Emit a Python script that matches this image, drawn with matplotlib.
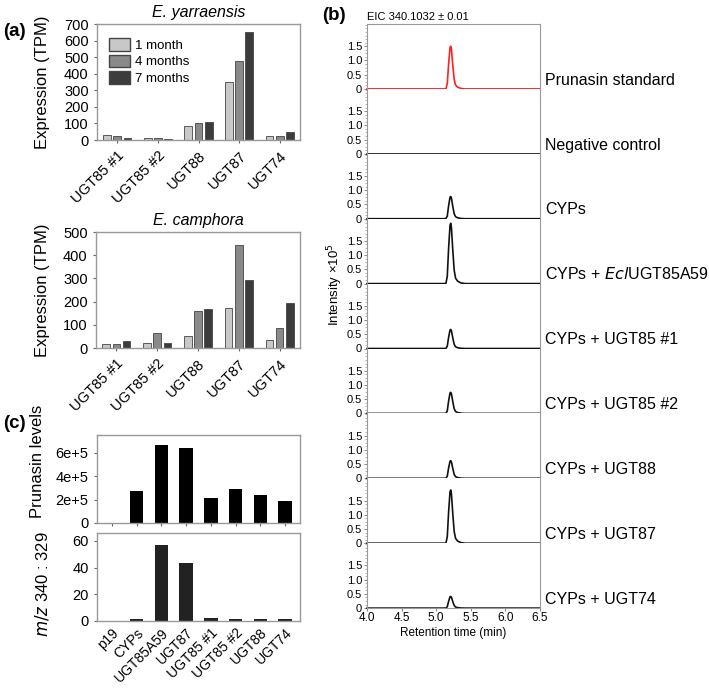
import numpy as np
import matplotlib
matplotlib.use("Agg")
import matplotlib.pyplot as plt
from matplotlib.patches import Patch

plt.rcParams['font.family'] = ['Liberation Sans', 'DejaVu Sans']

# -----------------------------
# Data
# -----------------------------
genes = ["UGT85 #1", "UGT85 #2", "UGT88", "UGT87", "UGT74"]
ages = ["1 month", "4 months", "7 months"]
yarraensis_tpm = [
    [30, 10, 87, 350, 24],    # 1 month
    [27, 12, 100, 475, 24],   # 4 months
    [12, 8, 111, 650, 46],    # 7 months
]
camphora_tpm = [
    [17, 20, 53, 173, 33],
    [16, 63, 161, 442, 85],
    [30, 22, 167, 291, 193],
]

constructs = ["p19", "CYPs", "UGT85A59", "UGT87", "UGT85 #1", "UGT85 #2", "UGT88", "UGT74"]
prunasin_levels = [0, 2.73e5, 6.69e5, 6.42e5, 2.17e5, 2.9e5, 2.36e5, 1.87e5]
mz_ratio = [0, 1.3, 57.2, 43.3, 2.0, 1.3, 1.7, 1.5]

samples = ["Prunasin standard", "Negative control", "CYPs", "CYPs + $\\it{Ecl}$UGT85A59",
           "CYPs + UGT85 #1", "CYPs + UGT85 #2", "CYPs + UGT88", "CYPs + UGT87", "CYPs + UGT74"]
peak_heights = [1.5, 0, 0.78, 2.12, 0.67, 0.74, 0.62, 1.87, 0.41]
trace_colors = ["#ff2020"] + ["#111111"] * 8

# peak shape (normalised to 1)
rt_profile = [4.0, 5.14, 5.16, 5.18, 5.20, 5.21, 5.22, 5.24, 5.26, 5.28, 5.31, 5.36, 5.42, 6.5]
shape_profile = [0, 0, 0.12, 0.6, 0.97, 1.0, 0.93, 0.55, 0.22, 0.09, 0.04, 0.01, 0, 0]

# -----------------------------
# Figure layout (pixel boxes)
# -----------------------------
W, H = 709, 691
fig = plt.figure(figsize=(W / 100, H / 100), dpi=100)


def box(l, t, r, b):
    return [l / W, 1 - b / H, (r - l) / W, (b - t) / H]


spine_c = "#999999"
bar_colors = ["#c8c8c8", "#8a8a8a", "#3c3c3c"]


def style_axes(ax):
    for s in ax.spines.values():
        s.set_color(spine_c)
        s.set_linewidth(1.0)
    ax.tick_params(colors="#666666", labelcolor="black", length=2.5, width=0.8)


def expression_panel(rect, data, title, ymax, yticks):
    ax = fig.add_axes(rect)
    x = np.arange(len(genes))
    for i, vals in enumerate(data):
        ax.bar(x + (i - 1) * 0.25, vals, width=0.19, color=bar_colors[i],
               edgecolor="#444444", linewidth=0.6, label=ages[i])
    ax.set_xlim(-0.5, len(genes) - 0.5)
    ax.set_ylim(0, ymax)
    ax.set_yticks(yticks)
    ax.set_xticks(x)
    ax.set_xticklabels(genes, rotation=45, ha="right", rotation_mode="anchor", fontsize=10.5)
    ax.tick_params(axis="y", labelsize=10.5)
    ax.set_title(title, style="italic", fontsize=11.5, pad=5)
    style_axes(ax)
    return ax


# -----------------------------
# (a) expression
# -----------------------------
ax1 = expression_panel(box(97, 24, 300, 140), yarraensis_tpm, "E. yarraensis", 700,
                       range(0, 701, 100))
ax1.legend(handles=[Patch(facecolor=c, edgecolor="#444444", label=a) for c, a in zip(bar_colors, ages)],
           loc="upper left", frameon=False, fontsize=9.5, handlelength=1.6, handleheight=1.1,
           borderaxespad=0.5, labelspacing=0.2, handletextpad=0.4, bbox_to_anchor=(0.0, 0.98))
ax2 = expression_panel(box(96, 232, 300, 348), camphora_tpm, "E. camphora", 500,
                       range(0, 501, 100))
fig.text(43 / W, 1 - 82 / H, "Expression (TPM)", rotation=90, ha="center", va="center", fontsize=12)
fig.text(43 / W, 1 - 290 / H, "Expression (TPM)", rotation=90, ha="center", va="center", fontsize=12)
fig.text(3 / W, 1 - 32 / H, "(a)", fontsize=13.5, fontweight="bold", va="center")

# -----------------------------
# (c) prunasin levels
# -----------------------------
xc = np.arange(len(constructs))
axc1 = fig.add_axes(box(97, 435, 300, 523))
axc1.bar(xc, prunasin_levels, width=0.55, color="black")
axc1.set_xlim(-0.6, len(constructs) - 0.4)
axc1.set_ylim(0, 7.5e5)
axc1.set_yticks([0, 2e5, 4e5, 6e5])
axc1.set_yticklabels(["0", "2e+5", "4e+5", "6e+5"], fontsize=10.5)
axc1.set_xticks(xc)
axc1.set_xticklabels([])
style_axes(axc1)

axc2 = fig.add_axes(box(97, 533, 300, 621))
axc2.bar(xc, mz_ratio, width=0.55, color="#222222")
axc2.set_xlim(-0.6, len(constructs) - 0.4)
axc2.set_ylim(0, 66)
axc2.set_yticks([0, 20, 40, 60])
axc2.tick_params(axis="y", labelsize=10.5)
axc2.set_xticks(xc)
axc2.set_xticklabels(constructs, rotation=45, ha="right", rotation_mode="anchor", fontsize=10)
style_axes(axc2)
axc2.tick_params(axis="x", length=0)

fig.text(38 / W, 1 - 461 / H, "Prunasin levels", rotation=90, ha="center", va="center", fontsize=12)
fig.text(42 / W, 1 - 584 / H, "$\\it{m/z}$ 340 : 329", rotation=90, ha="center", va="center", fontsize=12)
fig.text(3 / W, 1 - 423 / H, "(c)", fontsize=13.5, fontweight="bold", va="center")

# -----------------------------
# (b) EIC chromatograms
# -----------------------------
top, step = 24, 64.9
n = len(samples)
shape = np.array(shape_profile)
for i in range(n):
    ax = fig.add_axes(box(367, top + i * step, 540, top + (i + 1) * step))
    ax.plot(rt_profile, shape * peak_heights[i], color=trace_colors[i], lw=1.2, clip_on=False)
    ax.set_xlim(4.0, 6.5)
    ax.set_ylim(0, 2.28)
    ax.set_yticks([0, 0.5, 1.0, 1.5])
    ax.set_yticklabels(["0", "0.5", "1.0", "1.5"], fontsize=8)
    ax.set_yticks(np.arange(0, 2.28, 0.125), minor=True)
    for s in ["left", "right", "top", "bottom"]:
        ax.spines[s].set_color(spine_c)
    ax.spines["top"].set_visible(i == 0)
    ax.spines["bottom"].set_visible(i == n - 1)
    ax.tick_params(axis="y", length=2, width=0.7, colors="#888888", labelcolor="black", pad=1.5)
    ax.tick_params(axis="y", which="minor", length=1.2, width=0.5, colors="#999999")
    if i == n - 1:
        ax.set_xticks([4.0, 4.5, 5.0, 5.5, 6.0, 6.5])
        ax.set_xticklabels(["4.0", "4.5", "5.0", "5.5", "6.0", "6.5"], fontsize=8.5)
        ax.tick_params(axis="x", length=2, colors="#888888", labelcolor="black", pad=1)
        ax.set_xlabel("Retention time (min)", fontsize=8.5, labelpad=2)
    else:
        ax.set_xticks([])
    ax.text(1.03, 0.02, samples[i], transform=ax.transAxes, fontsize=11.5, va="bottom", ha="left")
    if i == 0:
        ax.text(0.0, 1.03, "EIC 340.1032 ± 0.01", transform=ax.transAxes, fontsize=8,
                va="bottom", ha="left")

fig.text(335 / W, 1 - 285 / H, "Intensity ×10$^5$", rotation=90, ha="center", va="center", fontsize=9.5)
fig.text(322 / W, 1 - 16 / H, "(b)", fontsize=13.5, fontweight="bold", va="center")

fig.savefig("out.png", dpi=100)
